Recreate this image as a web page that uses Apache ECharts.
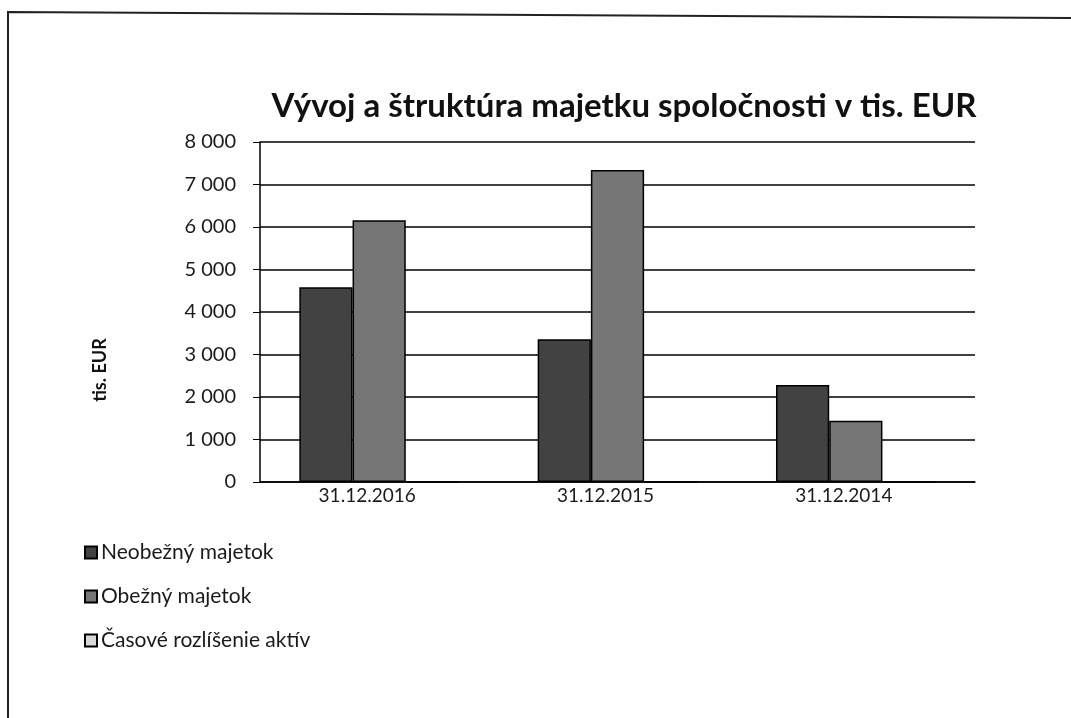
<!DOCTYPE html>
<html>
<head>
<meta charset="utf-8">
<script src="https://cdn.jsdelivr.net/npm/echarts@6/dist/echarts.min.js"></script>
<style>
html,body{margin:0;padding:0;background:#fff;}
#c{width:1071px;height:718px;}
</style>
</head>
<body>
<div id="c"></div>
<script>
const categories = ['31.12.2016', '31.12.2015', '31.12.2014'];
const neobezny = [4580, 3360, 2280];
const obezny = [6160, 7340, 1440];
const casove = [0, 0, 0];
const seriesNames = ['Neobežný majetok', 'Obežný majetok', 'Časové rozlíšenie aktív'];
const yTicks = { min: 0, max: 8000, interval: 1000 };
const yAxisTitle = 'tis. EUR';

const font = 'Lato, "Open Sans", sans-serif';
const chart = echarts.init(document.getElementById('c'));
chart.setOption({
  backgroundColor: '#fff',
  animation: false,
  title: {
    text: 'Vývoj a štruktúra majetku spoločnosti v tis. EUR',
    left: 619, top: 85, textAlign: 'center',
    textStyle: { fontFamily: font, fontSize: 33, fontWeight: 'bold', color: '#111' }
  },
  grid: { left: 260, right: 96, top: 142, bottom: 236, containLabel: false },
  legend: {
    orient: 'vertical', left: 79, top: 537, itemGap: 23,
    icon: 'rect', itemWidth: 12, itemHeight: 12,
    textStyle: { fontFamily: font, fontSize: 21, color: '#1a1a1a', padding: [0,0,0,-1] },
    data: seriesNames
  },
  xAxis: {
    type: 'category', data: categories,
    axisLine: { lineStyle: { color: '#000', width: 1.5 } },
    axisTick: { show: false },
    axisLabel: { fontFamily: font, fontSize: 19, color: '#1a1a1a', margin: 4, padding: [0, 24, 0, 0] }
  },
  yAxis: {
    type: 'value', min: yTicks.min, max: yTicks.max, interval: yTicks.interval,
    axisLine: { show: true, lineStyle: { color: '#000', width: 1.5 } },
    axisTick: { show: true, inside: false, length: 7, lineStyle: { color: '#000' } },
    splitLine: { lineStyle: { color: '#000', width: 1.5 } },
    axisLabel: {
      fontFamily: font, fontSize: 20, color: '#1a1a1a', margin: 24,
      formatter: v => String(v).replace(/\B(?=(\d{3})+(?!\d))/g, ' ')
    }
  },
  series: [
    { name: seriesNames[0], type: 'bar', data: neobezny, barGap: '0%', barCategoryGap: '33%',
      itemStyle: { color: '#424242', borderColor: '#000', borderWidth: 1.5 } },
    { name: seriesNames[1], type: 'bar', data: obezny,
      itemStyle: { color: '#767676', borderColor: '#000', borderWidth: 1.5 } },
    { name: seriesNames[2], type: 'bar', data: casove,
      itemStyle: { color: '#d8d8d8', borderColor: '#000', borderWidth: 1.5 } }
  ],
  graphic: [
    { type: 'polyline', shape: { points: [[8, 718], [8, 12], [1071, 18]] },
      style: { stroke: '#222', lineWidth: 2, fill: null } },
    { type: 'text', x: 100, y: 370, rotation: Math.PI / 2,
      style: { text: yAxisTitle, fontFamily: font, fontSize: 18, fontWeight: 'bold',
               fill: '#111', align: 'center', verticalAlign: 'middle' } }
  ]
});
</script>
</body>
</html>
